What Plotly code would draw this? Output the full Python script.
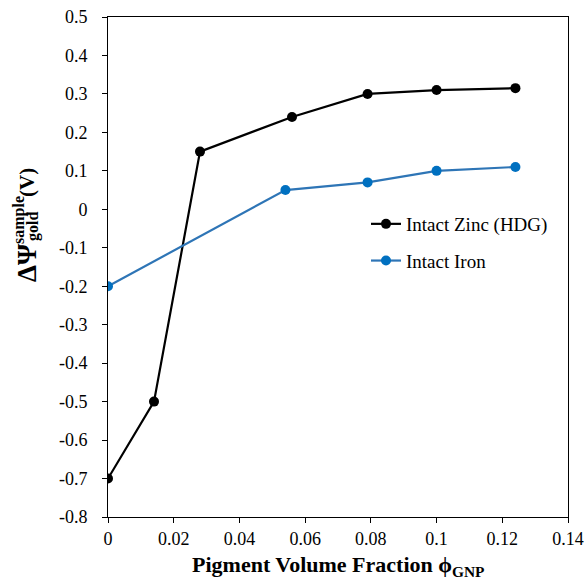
import plotly.graph_objects as go

zinc_x = [0, 0.014, 0.028, 0.056, 0.079, 0.1, 0.124]
zinc_y = [-0.7, -0.5, 0.15, 0.24, 0.30, 0.31, 0.315]
iron_x = [0, 0.054, 0.079, 0.1, 0.124]
iron_y = [-0.2, 0.05, 0.07, 0.10, 0.11]
x_ticks = [0, 0.02, 0.04, 0.06, 0.08, 0.1, 0.12, 0.14]
x_ticktext = ["0", "0.02", "0.04", "0.06", "0.08", "0.1", "0.12", "0.14"]
y_ticks = [-0.8, -0.7, -0.6, -0.5, -0.4, -0.3, -0.2, -0.1, 0, 0.1, 0.2, 0.3, 0.4, 0.5]
y_ticktext = ["-0.8", "-0.7", "-0.6", "-0.5", "-0.4", "-0.3", "-0.2", "-0.1", "0",
              "0.1", "0.2", "0.3", "0.4", "0.5"]

W, H = 586, 581
L, R, T, B = 108, 18, 17, 64
PW, PH = W - L - R, H - T - B

font = "Liberation Serif, Times New Roman, serif"

fig = go.Figure()
fig.add_trace(go.Scatter(x=zinc_x, y=zinc_y, mode="lines+markers", name="Intact Zinc (HDG)",
                         legendgroup="a",
                         line=dict(color="black", width=2.2),
                         marker=dict(color="black", size=10)))
fig.add_trace(go.Scatter(x=iron_x, y=iron_y, mode="lines+markers", name="Intact Iron",
                         legendgroup="b",
                         line=dict(color="#2E75B6", width=2.2),
                         marker=dict(color="#0070C0", size=10)))


def px2paper(px, py):
    return (px - L) / PW, (H - B - py) / PH

anns = []
for txt, px, py, sz in [("<b>ΔΨ</b>", 27, 263, 27), ("<b>(V)</b>", 27, 183, 21),
                        ("<b>sample</b>", 19, 220, 16), ("<b>gold</b>", 33, 227, 16)]:
    x, y = px2paper(px, py)
    anns.append(dict(text=txt, x=x, y=y, xref="paper", yref="paper", showarrow=False,
                     textangle=-90, xanchor="center", yanchor="middle",
                     font=dict(family=font, size=sz, color="black")))
x, y = px2paper(338, 566)
anns.append(dict(text="<b>Pigment Volume Fraction ϕ<sub>GNP</sub></b>", x=x, y=y, xref="paper", yref="paper",
                 showarrow=False, xanchor="center", yanchor="middle",
                 font=dict(family=font, size=22, color="black")))

fig.update_layout(
    width=W, height=H, margin=dict(l=L, r=R, t=T, b=B, autoexpand=False),
    paper_bgcolor="white", plot_bgcolor="white",
    font=dict(family=font, size=16, color="black"),
    showlegend=True,
    legend=dict(x=(366 - L) / PW, y=(H - B - 205) / PH, xanchor="left", yanchor="top",
                bgcolor="rgba(0,0,0,0)", font=dict(family=font, size=19, color="black"),
                tracegroupgap=9, itemwidth=30),
    annotations=anns,
)
fig.update_xaxes(range=[0, 0.14], tickvals=x_ticks, ticktext=x_ticktext,
                 showline=True, linecolor="black", linewidth=1, mirror=True,
                 ticks="outside", ticklen=5, tickcolor="black", showgrid=False, zeroline=False,
                 ticklabelstandoff=0,
                 tickfont=dict(family=font, size=18, color="black"))
fig.update_yaxes(range=[-0.8, 0.5], tickvals=y_ticks, ticktext=y_ticktext,
                 showline=True, linecolor="black", linewidth=1, mirror=True,
                 ticks="outside", ticklen=5, tickcolor="black", showgrid=False, zeroline=False,
                 ticklabelstandoff=11,
                 tickfont=dict(family=font, size=18, color="black"))

fig.write_html("out.html", config={"displayModeBar": False},
               post_script="document.body.style.margin='0';document.body.style.overflow='hidden';")
